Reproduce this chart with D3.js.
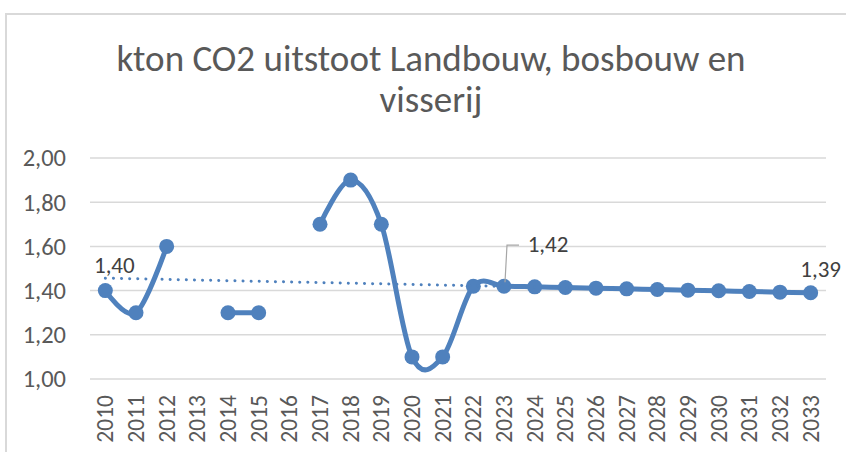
<!DOCTYPE html>
<html>
<head>
<meta charset="utf-8">
<script src="https://cdn.jsdelivr.net/npm/d3@7"></script>
<style>
  body { margin: 0; background: #fff; }
  text { font-family: Carlito, Lato, "Open Sans", sans-serif; fill: #595959; }
</style>
</head>
<body>
<div id="chart"></div>
<script>
// categories + values (null = no data that year)
var years = [2010, 2011, 2012, 2013, 2014, 2015, 2016, 2017, 2018, 2019, 2020, 2021,
             2022, 2023, 2024, 2025, 2026, 2027, 2028, 2029, 2030, 2031, 2032, 2033];
var values = [1.40, 1.30, 1.60, null, 1.30, 1.30, null, 1.70, 1.90, 1.70, 1.10, 1.10,
              1.42, 1.42, 1.417, 1.414, 1.411, 1.408, 1.405, 1.402, 1.399, 1.396, 1.393, 1.39];
var yTicks = [1.00, 1.20, 1.40, 1.60, 1.80, 2.00];
var labelYears = [2010, 2023, 2033];
var titleLines = ['kton CO2 uitstoot Landbouw, bosbouw en', 'visserij'];

var width = 846, height = 452;
var blue = '#4f81bd';
var fmt = function(v) { return d3.format('.2f')(v).replace('.', ','); };

var svg = d3.select('#chart').append('svg')
    .attr('width', width).attr('height', height);

// chart frame
svg.append('rect')
    .attr('x', 6).attr('y', 14)
    .attr('width', width + 10).attr('height', height + 10)
    .attr('fill', 'none').attr('stroke', '#d9d9d9').attr('stroke-width', 2);

// title
svg.append('text')
    .attr('x', 431).attr('y', 71)
    .attr('text-anchor', 'middle')
    .style('font-size', '37px')
    .selectAll('tspan')
    .data(titleLines)
    .enter().append('tspan')
    .attr('x', 431)
    .attr('dy', function(d, i) { return i == 0 ? 0 : 41; })
    .text(function(d) { return d; });

var x = d3.scaleBand().domain(years).range([90, 826]);
var y = d3.scaleLinear().domain([1.0, 2.0]).range([379, 158]);
var cx = function(yr) { return x(yr) + x.bandwidth() / 2; };

// gridlines
svg.append('g').selectAll('line')
    .data(yTicks)
    .enter().append('line')
    .attr('x1', 90).attr('x2', 826)
    .attr('y1', function(d) { return y(d); })
    .attr('y2', function(d) { return y(d); })
    .attr('stroke', '#d9d9d9').attr('stroke-width', 1.5);

// y axis labels
var yAxis = d3.axisLeft(y).tickValues(yTicks).tickFormat(fmt).tickSize(0).tickPadding(0);
var gy = svg.append('g').attr('transform', 'translate(66,0)').call(yAxis);
gy.select('.domain').remove();
gy.selectAll('text').style('font-size', '24.5px').style('fill', '#595959');

// x axis labels, rotated
var xAxis = d3.axisBottom(x).tickSize(0).tickPadding(0);
var gx = svg.append('g').attr('transform', 'translate(0,391)').call(xAxis);
gx.select('.domain').remove();
gx.selectAll('text')
    .style('font-size', '23.5px').style('fill', '#595959')
    .attr('transform', 'rotate(-90)')
    .attr('text-anchor', 'end')
    .attr('x', -4).attr('y', 0).attr('dy', '0.34em');

var points = years.map(function(yr, i) { return { year: yr, value: values[i] }; });
var defined = points.filter(function(p) { return p.value != null; });

// series line (smoothed, broken at gaps)
var line = d3.line()
    .defined(function(p) { return p.value != null; })
    .x(function(p) { return cx(p.year); })
    .y(function(p) { return y(p.value); })
    .curve(d3.curveCardinal.tension(0));

svg.append('path')
    .datum(points)
    .attr('d', line)
    .attr('fill', 'none').attr('stroke', blue)
    .attr('stroke-width', 5).attr('stroke-linejoin', 'round');

svg.append('g').selectAll('circle')
    .data(defined)
    .enter().append('circle')
    .attr('cx', function(p) { return cx(p.year); })
    .attr('cy', function(p) { return y(p.value); })
    .attr('r', 7.5)
    .attr('fill', blue);

// linear trendline (least squares over category index)
var idx = defined.map(function(p) { return years.indexOf(p.year); });
var mx = d3.mean(idx), my = d3.mean(defined, function(p) { return p.value; });
var sxy = d3.sum(defined, function(p, i) { return (idx[i] - mx) * (p.value - my); });
var sxx = d3.sum(idx, function(v) { return (v - mx) * (v - mx); });
var slope = sxy / sxx, icpt = my - slope * mx;
var trend = [0, years.length - 1];

svg.append('line')
    .attr('x1', cx(years[trend[0]])).attr('x2', cx(years[trend[1]]))
    .attr('y1', y(icpt + slope * trend[0]))
    .attr('y2', y(icpt + slope * trend[1]))
    .attr('stroke', blue).attr('stroke-width', 3)
    .attr('stroke-linecap', 'round').attr('stroke-dasharray', '0.1,8');

// data labels
var lbl = points.filter(function(p) { return labelYears.indexOf(p.year) >= 0; });
var lblOffsets = { 2010: [9, -18], 2023: [44, -34], 2033: [10, -16] };

svg.append('g').selectAll('text')
    .data(lbl)
    .enter().append('text')
    .attr('x', function(p) { return cx(p.year) + lblOffsets[p.year][0]; })
    .attr('y', function(p) { return y(p.value) + lblOffsets[p.year][1]; })
    .attr('text-anchor', 'middle')
    .style('font-size', '23px').style('fill', '#404040')
    .text(function(p) { return fmt(p.value); });

// leader line for the moved 1,42 label
var p23 = lbl[1];
svg.append('path')
    .attr('d', 'M' + (cx(p23.year) + 1) + ',' + (y(p23.value) - 4) +
               'L' + (cx(p23.year) + 3) + ',' + (y(p23.value) - 41) +
               'L' + (cx(p23.year) + 15) + ',' + (y(p23.value) - 41))
    .attr('fill', 'none').attr('stroke', '#a6a6a6').attr('stroke-width', 1.2);
</script>
</body>
</html>
